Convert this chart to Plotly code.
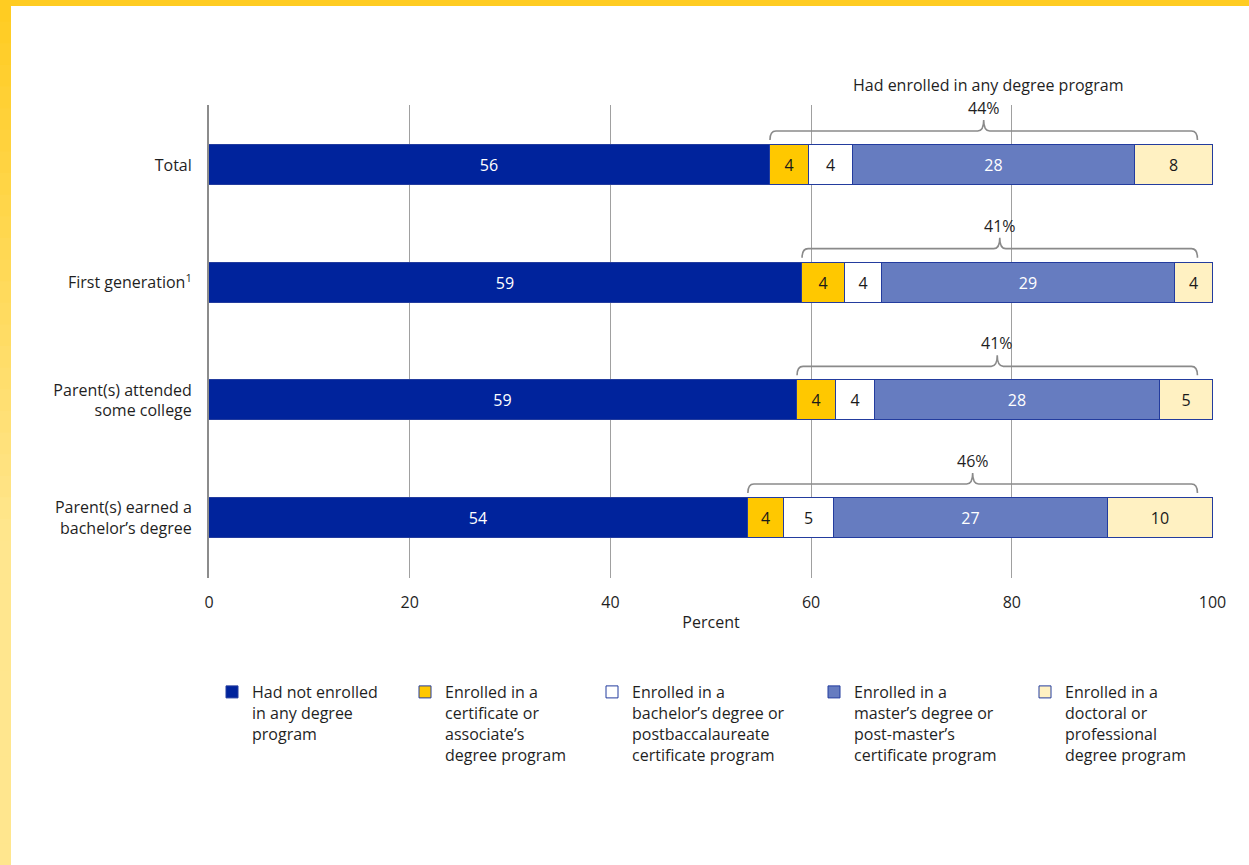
import plotly.graph_objects as go

# ---------------- data ----------------
rows = ["Total", "First generation<sup>1</sup>",
        "Parent(s) attended<br>some college",
        "Parent(s) earned a<br>bachelor’s degree"]
series_names = [
    "Had not enrolled<br>in any degree<br>program",
    "Enrolled in a<br>certificate or<br>associate’s<br>degree program",
    "Enrolled in a<br>bachelor’s degree or<br>postbaccalaureate<br>certificate program",
    "Enrolled in a<br>master’s degree or<br>post-master’s<br>certificate program",
    "Enrolled in a<br>doctoral or<br>professional<br>degree program",
]
not_enrolled = [55.9, 59.1, 58.6, 53.7]
cert_assoc = [3.9, 4.3, 3.9, 3.6]
bachelors = [4.4, 3.7, 3.9, 5.0]
masters = [28.1, 29.2, 28.4, 27.3]
doctoral = [7.7, 3.7, 5.2, 10.4]
any_degree = [44, 41, 41, 46]
brace_title = "Had enrolled in any degree program"
x_ticks = [0, 20, 40, 60, 80, 100]

# ---------------- style ----------------
W, H = 1249, 865
L, R, T, B = 209, 36, 105, 287
pw, ph = W - L - R, H - T - B
y_lo, y_hi = -0.51, 3.51
kx = pw / 100.0
ky = ph / (y_hi - y_lo)
colors = ["#00239C", "#FFC800", "#FFFFFF", "#667CC0", "#FFF1C2"]
text_colors = ["#FFFFFF", "#1A1A1A", "#1A1A1A", "#FFFFFF", "#1A1A1A"]
outline = "#233C9E"
font_family = "Open Sans, Noto Sans, DejaVu Sans, sans-serif"
txt = "#1F1F1F"
legend_px = [230, 423, 610, 832, 1043]

values = [not_enrolled, cert_assoc, bachelors, masters, doctoral]
ypos = list(range(len(rows)))

fig = go.Figure()
for k, (name, vals) in enumerate(zip(series_names, values)):
    fig.add_trace(go.Bar(
        y=ypos, x=vals, name=name, orientation="h",
        marker=dict(color=colors[k], line=dict(color=outline, width=1)),
        width=0.34,
        text=vals, texttemplate="%{x:.0f}", textposition="inside",
        insidetextanchor="middle", constraintext="none",
        textfont=dict(size=16, color=text_colors[k], family=font_family),
        legend="legend" if k == 0 else f"legend{k+1}",
        hoverinfo="skip",
    ))

def px2x(px):
    return (px - L) / pw

def py2y(py):
    return (H - B - py) / ph

shapes = []
annotations = []
brace_end = 98.5
for i in range(len(rows)):
    x0 = not_enrolled[i]
    x1 = brace_end
    xm = (x0 + x1) / 2
    yl = i - 34 / ky
    ya = i - 25 / ky
    yt = i - 45 / ky
    dx = 6 / kx
    path = (f"M {x0},{ya} Q {x0},{yl} {x0+dx},{yl} L {xm-dx},{yl} "
            f"Q {xm},{yl} {xm},{yt} Q {xm},{yl} {xm+dx},{yl} "
            f"L {x1-dx},{yl} Q {x1},{yl} {x1},{ya}")
    shapes.append(dict(type="path", path=path, xref="x", yref="y",
                       line=dict(color="#8A8A8A", width=1.6)))
    annotations.append(dict(x=xm, y=i - 57 / ky, xref="x", yref="y",
                            yanchor="middle",
                            text=f"{any_degree[i]}%", showarrow=False,
                            font=dict(size=16, color=txt, family=font_family)))
    if i == 0:
        annotations.append(dict(x=xm + 0.5, y=py2y(85), xref="x", yref="paper",
                                yanchor="middle",
                                text=brace_title, showarrow=False,
                                font=dict(size=16, color=txt, family=font_family)))

# yellow frame (top band and left gradient band)
shapes.append(dict(type="rect", xref="paper", yref="paper",
                   x0=px2x(0), x1=px2x(W), y0=py2y(6), y1=py2y(0),
                   fillcolor="#FFCC22", line=dict(width=0), layer="above"))
n = 40
c0 = (255, 204, 34)
c1 = (255, 230, 142)
for j in range(n):
    t = j / (n - 1)
    c = tuple(round(c0[m] + (c1[m] - c0[m]) * min(1, t * 1.6)) for m in range(3))
    ytop = j * H / n
    ybot = (j + 1) * H / n + 1
    shapes.append(dict(type="rect", xref="paper", yref="paper",
                       x0=px2x(0), x1=px2x(11), y0=py2y(ybot), y1=py2y(ytop),
                       fillcolor=f"rgb{c}", line=dict(width=0), layer="above"))

layout_legends = {}
for k in range(5):
    key = "legend" if k == 0 else f"legend{k+1}"
    layout_legends[key] = dict(
        x=px2x(legend_px[k] - 18), xanchor="left",
        y=py2y(675), yanchor="top",
        orientation="v", valign="top",
        font=dict(size=16, color=txt, family=font_family),
        bgcolor="rgba(0,0,0,0)", borderwidth=0,
        itemclick=False, itemdoubleclick=False,
    )

fig.update_layout(
    width=W, height=H,
    margin=dict(l=L, r=R, t=T, b=B, autoexpand=False),
    paper_bgcolor="#FFFFFF", plot_bgcolor="#FFFFFF",
    barmode="stack", bargap=0,
    showlegend=True,
    font=dict(family=font_family, size=16, color=txt),
    shapes=shapes, annotations=annotations,
    **layout_legends,
    xaxis=dict(range=[0, 100.05], tickvals=x_ticks, showgrid=True,
               gridcolor="#A0A0A0", gridwidth=1, zeroline=False,
               showline=False, ticks="", ticklabelstandoff=13,
               tickfont=dict(size=16, color=txt),
               title=dict(text="Percent", standoff=4,
                          font=dict(size=16, color=txt)),
               fixedrange=True),
    yaxis=dict(range=[y_hi, y_lo], tickvals=ypos, ticktext=rows,
               showgrid=False, zeroline=False, showline=True,
               linecolor="#8C8C8C", linewidth=2, ticks="",
               ticklabelstandoff=12, tickfont=dict(size=16, color=txt),
               fixedrange=True),
)

fig.write_html("out.html", config={"displayModeBar": False},
               post_script="document.body.style.margin='0';document.body.style.overflow='hidden';")
